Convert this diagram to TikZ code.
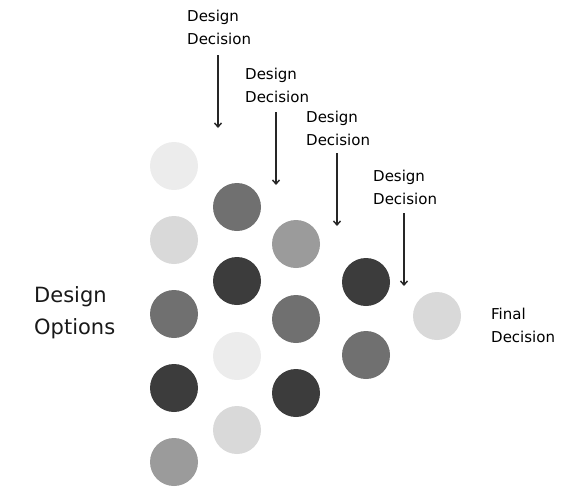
\documentclass[tikz,border=0pt]{standalone}
\usepackage{fontspec}
\setmainfont{DejaVu Sans}
\usetikzlibrary{arrows.meta}
\definecolor{cA}{HTML}{ECECEC}
\definecolor{cB}{HTML}{D9D9D9}
\definecolor{cC}{HTML}{9B9B9B}
\definecolor{cD}{HTML}{707070}
\definecolor{cE}{HTML}{3C3C3C}
\tikzset{
  opt/.style={circle, minimum size=48pt, inner sep=0pt, draw=none, fill=#1},
  lbl/.style={anchor=west, align=left, inner sep=0pt, font=\fontsize{15}{23}\selectfont, text=black},
  biglbl/.style={anchor=west, align=left, inner sep=0pt, font=\fontsize{21}{32}\selectfont, text=black!90},
  decarrow/.style={-{Straight Barb[length=4pt,width=7pt]}, line width=1.4pt, black!85}
}
\begin{document}
\begin{tikzpicture}[x=1pt,y=-1pt]
\useasboundingbox (0,0) rectangle (563,488);
% column 1
\node[opt=cA] (a1) at (174,166) {};
\node[opt=cB] (a2) at (174,240) {};
\node[opt=cD] (a3) at (174,314) {};
\node[opt=cE] (a4) at (174,388) {};
\node[opt=cC] (a5) at (174,462) {};
% column 2
\node[opt=cD] (b1) at (237,207) {};
\node[opt=cE] (b2) at (237,281) {};
\node[opt=cA] (b3) at (237,356) {};
\node[opt=cB] (b4) at (237,430) {};
% column 3
\node[opt=cC] (c1) at (296,244) {};
\node[opt=cD] (c2) at (296,319) {};
\node[opt=cE] (c3) at (296,393) {};
% column 4
\node[opt=cE] (d1) at (366,282) {};
\node[opt=cD] (d2) at (366,355) {};
% column 5
\node[opt=cB] (e1) at (437,316) {};
% labels
\node[biglbl] (opts) at (34,313) {Design\\Options};
\node[lbl] (fin) at (491,325) {Final\\Decision};
\node[lbl] (t1) at (187,27.5) {Design\\Decision};
\node[lbl] (t2) at (245,85) {Design\\Decision};
\node[lbl] (t3) at (306,128) {Design\\Decision};
\node[lbl] (t4) at (373,187) {Design\\Decision};
% arrows
\coordinate (s1) at (218,55);  \coordinate (e1p) at (218,128);
\coordinate (s2) at (276,112); \coordinate (e2p) at (276,185);
\coordinate (s3) at (337,153); \coordinate (e3p) at (337,226);
\coordinate (s4) at (404,213); \coordinate (e4p) at (404,286);
\draw[decarrow] (s1) -- (e1p);
\draw[decarrow] (s2) -- (e2p);
\draw[decarrow] (s3) -- (e3p);
\draw[decarrow] (s4) -- (e4p);
\end{tikzpicture}
\end{document}
